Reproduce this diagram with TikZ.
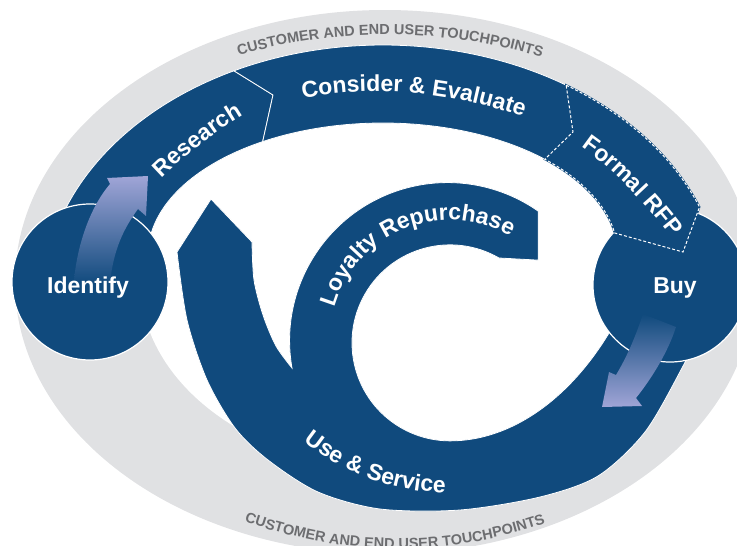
\documentclass[tikz,border=0pt]{standalone}
\usepackage{fontspec}
\setmainfont{Liberation Sans}
\usetikzlibrary{calc,decorations.text}
\definecolor{bandblue}{RGB}{16,74,125}
\definecolor{ringgray}{RGB}{224,225,227}
\definecolor{tpgray}{RGB}{108,109,112}
\definecolor{arrowlav}{RGB}{160,165,215}
\newcommand{\stagefont}{\fontsize{23}{27}\selectfont\bfseries}
\newcommand{\ringfont}{\fontsize{14.5}{17}\selectfont\bfseries}
\tikzstyle{band} = [fill=bandblue, draw=white, line width=0.8pt]
\tikzstyle{disc} = [fill=bandblue, draw=white, line width=1.2pt]
\tikzstyle{rfp} = [fill=bandblue, preaction={draw=bandblue, line width=1.8pt}, draw=white, line width=1pt, dash pattern=on 3pt off 2pt]
\tikzstyle{stage} = [text=white, font=\stagefont, inner sep=0pt, anchor=base]
\tikzstyle{stagepath} = [decorate, decoration={text along path, text color=white, text align=center}]
\tikzstyle{ringpath} = [decorate, decoration={text along path, text color=tpgray, text align=center}]

\begin{document}
\begin{tikzpicture}[x=1pt,y=-1pt]
			\useasboundingbox (0,0) rectangle (737,546);
			\clip (0,0) rectangle (737,546);
			\fill[ringgray] (385,282) ellipse [x radius=370, y radius=272];
			\fill[white] (400,280) ellipse [x radius=260, y radius=190];
			\path[band] (625,305) -- plot[smooth] coordinates {(700,330) (682,368) (645,432) (598,476) (540,497) (460,510) (380,509) (318,492) (268,460) (235,428) (207,380) (187,320) (177,252)}
				-- (211,199) -- (252,242)
				-- plot[smooth] coordinates {(252,242) (254,280) (263,315) (276,346) (292,368)}
				arc[start angle=170, end angle=305, radius=158] -- ++(0,49) -- (499,258)
				arc[start angle=300, end angle=90, radius=98] .. controls (510,441) and (570,400) .. (612,328) -- cycle;
			\path[band] ($(383,300)+(195:340 and 255)$) arc[start angle=195, end angle=244, x radius=340, y radius=255]
				-- (273,95) -- ($(383,255)+(239.2:235 and 132)$) arc[start angle=239.2, end angle=185, x radius=235, y radius=132] -- cycle;
			\path[band] ($(383,300)+(244:340 and 255)$) arc[start angle=244, end angle=302.6, x radius=340, y radius=255]
				-- (573,132) -- ($(383,255)+(313.5:235 and 132)$) arc[start angle=313.5, end angle=239.2, x radius=235, y radius=132] -- (273,95) -- cycle;
			\path[disc] (90,282) circle [radius=78];
			\path[disc] (670,285) circle [radius=77];
			\path[rfp] ($(383,300)+(302.6:340 and 255)$) arc[start angle=302.6, end angle=338.6, x radius=340, y radius=255]
				-- (683,252) -- ($(383,255)+(350.4:235 and 132)$) arc[start angle=350.4, end angle=313.5, x radius=235, y radius=132] -- (573,132) -- cycle;
			\shade[top color=arrowlav, bottom color=bandblue] (110,184) -- (107,178) -- (148,176) -- (146,216) -- (138,209)
				.. controls (124,228) and (113,250) .. (110,284) -- (74,280) .. controls (78,240) and (92,205) .. (110,184) -- cycle;
			\shade[top color=bandblue, bottom color=arrowlav] (643,314) .. controls (636,335) and (628,355) .. (616,375) -- (609,372) -- (602,407) -- (642,406) -- (636,398)
				.. controls (652,378) and (668,352) .. (676,327) -- cycle;
			\node[stage] (identify) at (88,293) {Identify};
			\node[stage] (buy) at (675,293) {Buy};
			\path[stagepath, decoration={text={|\stagefont|Research}}] (150,190) .. controls (180.7,157.3) and (216.7,129.7) .. (258,107);
			\path[stagepath, decoration={text={|\stagefont|Consider {\&} Evaluate}}] (280,103) .. controls (366.7,82.3) and (455,89.7) .. (545,125);
			\path[stagepath, decoration={text={|\stagefont|Formal RFP}}] (564,136) .. controls (602.7,158) and (642.7,197.3) .. (684,254);
			\path[stagepath, decoration={text={|\stagefont|Loyalty Repurchase}}] ($(450,340)+(190:120)$) arc[start angle=190, end angle=306, radius=120];
			\path[stagepath, decoration={text={|\stagefont|Use {\&} Service}}] (285,425) .. controls (338.3,475) and (400,497.3) .. (470,492);
			\path[ringpath, decoration={text={|\ringfont|CUSTOMER AND END USER TOUCHPOINTS}}] (230,58) .. controls (336.7,26) and (443.3,26.7) .. (550,60);
			\path[ringpath, decoration={text={|\ringfont|CUSTOMER AND END USER TOUCHPOINTS}}] (235,518) .. controls (341.7,558) and (448.3,558.7) .. (555,520);
		\end{tikzpicture}
\end{document}
